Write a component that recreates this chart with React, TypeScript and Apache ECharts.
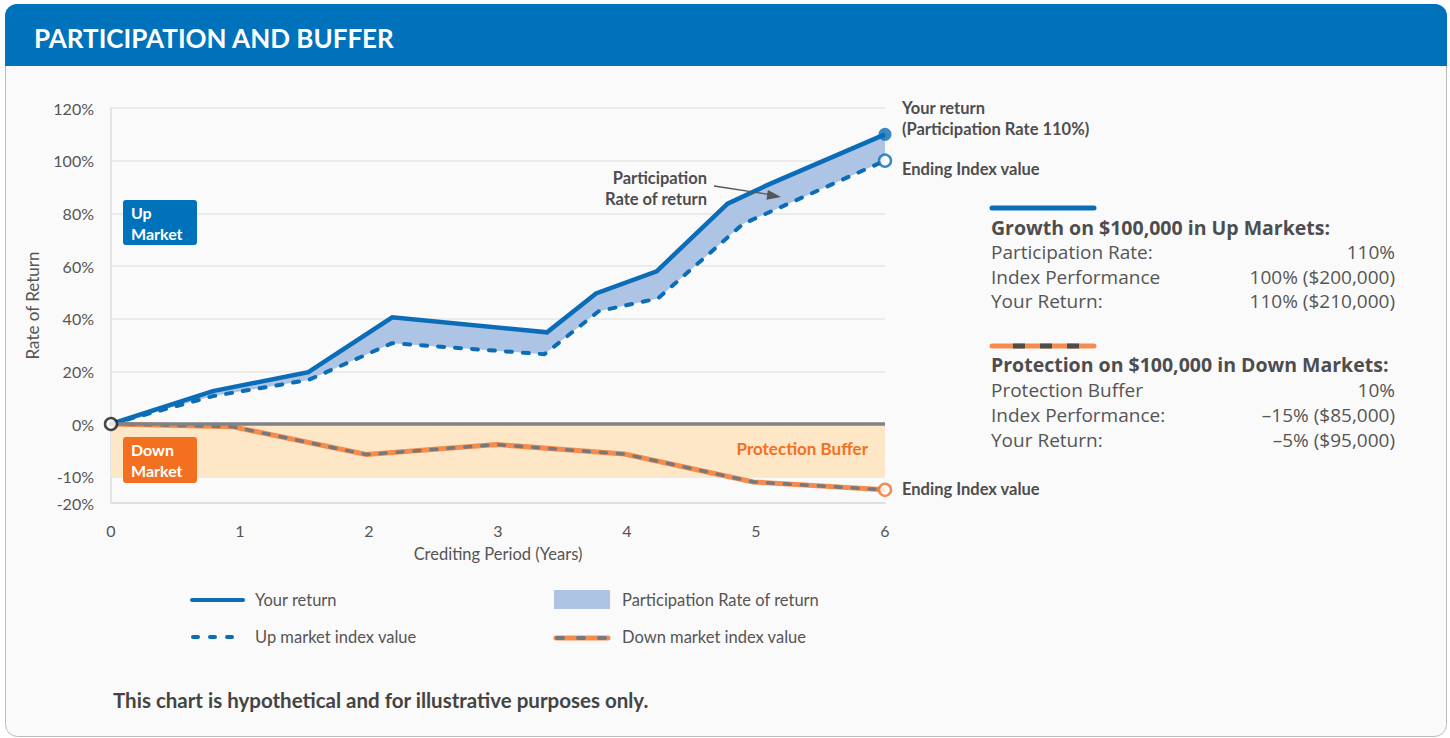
import React, { useEffect, useRef } from "react";
import * as echarts from "echarts";

// ---- Data ----
const returnYears = [0, 0.79, 1.53, 2.18, 3.38, 3.76, 4.23, 4.78, 5.1, 6];
const yourReturn = [0, 12.5, 19.7, 40.5, 34.8, 49.6, 58, 83.7, 91, 110];

const indexYears = [0, 0.79, 1.53, 2.18, 3.36, 3.78, 4.24, 4.9, 6];
const upIndex = [0, 10.6, 16.7, 30.7, 26.5, 42.8, 47.7, 76, 100];

const downYears = [0, 0.94, 1.98, 2.99, 3.98, 4.98, 6];
const downIndex = [0, -0.5, -5.8, -3.9, -5.7, -12, -15];

const xTicks = [0, 1, 2, 3, 4, 5, 6];
const yTickLabels = [120, 100, 80, 60, 40, 20, 0, -10, -20];
const bufferRange = [0, -10];

// The reference's vertical axis is piecewise: 0 to -10 is stretched, -10 to -20 compressed.
const toAxis = (v: number) => (v >= 0 ? v : v >= -10 ? 2 * v : -20 + (v + 10));
const fromAxis = (a: number) => (a >= 0 ? a : a >= -20 ? a / 2 : a + 10);

const FONT = "Lato, 'Open Sans', sans-serif";
const PANEL_FONT = "'Open Sans', Lato, sans-serif";
const BLUE = "#0b6db7";
const ORANGE = "#f37021";
const GRAY_TXT = "#4d4d4f";

export default function App() {
  const ref = useRef<HTMLDivElement>(null);

  useEffect(() => {
    if (!ref.current) return;
    const chart = echarts.init(ref.current, undefined, { renderer: "svg" });

    const txt = (text: string, x: number, y: number, o: any = {}) => ({
      type: "text",
      z: o.z ?? 20,
      style: {
        text,
        x,
        y,
        fill: o.fill ?? GRAY_TXT,
        fontFamily: o.family ?? FONT,
        fontSize: o.size ?? 16,
        fontWeight: o.weight ?? "normal",
        align: o.align ?? "left",
        verticalAlign: "middle",
        lineHeight: o.lineHeight,
      },
    });

    const panel = (text: string, x: number, y: number, o: any = {}) =>
      txt(text, x, y, { size: 19, fill: "#555", family: PANEL_FONT, ...o });

    const graphic: any[] = [
      // card
      {
        type: "rect",
        z: -10,
        shape: { x: 5.5, y: 4.5, width: 1441, height: 732, r: 12 },
        style: { fill: "#fafafa", stroke: "#bdbdbd", lineWidth: 1 },
      },
      {
        type: "rect",
        z: -9,
        shape: { x: 5, y: 4, width: 1442, height: 62, r: [12, 12, 0, 0] },
        style: { fill: "#0071bb" },
      },
      txt("PARTICIPATION AND BUFFER", 34, 38, { fill: "#ffffff", size: 26, weight: "bold" }),

      // in-plot labels
      {
        type: "rect",
        z: 20,
        shape: { x: 123, y: 200, width: 74, height: 45, r: 3 },
        style: { fill: "#0071bb" },
      },
      txt("Up\nMarket", 131, 223, { fill: "#ffffff", size: 16, weight: "bold", lineHeight: 21, z: 21 }),
      {
        type: "rect",
        z: 20,
        shape: { x: 123, y: 437, width: 74, height: 46, r: 3 },
        style: { fill: ORANGE },
      },
      txt("Down\nMarket", 131, 460, { fill: "#ffffff", size: 16, weight: "bold", lineHeight: 21, z: 21 }),

      txt("Participation\nRate of return", 707, 188, { size: 16.5, weight: "bold", align: "right", lineHeight: 21 }),
      {
        type: "line",
        z: 20,
        shape: { x1: 714, y1: 186, x2: 770, y2: 194.6 },
        style: { stroke: "#555555", lineWidth: 1.3 },
      },
      {
        type: "polygon",
        z: 20,
        shape: { points: [[781, 197], [766.4, 199.8], [767.9, 189.9]] },
        style: { fill: "#555555" },
      },

      // right-of-plot labels
      txt("Your return", 902, 108, { size: 16.5, weight: "bold" }),
      txt("(Participation Rate 110%)", 902, 129, { size: 16.5, weight: "bold" }),
      txt("Ending Index value", 902, 169, { size: 16.5, weight: "bold" }),
      txt("Ending Index value", 902, 489, { size: 16.5, weight: "bold" }),

      // right info panel
      {
        type: "line",
        z: 20,
        shape: { x1: 992, y1: 208, x2: 1094, y2: 208 },
        style: { stroke: BLUE, lineWidth: 5, lineCap: "round" },
      },
      panel("Growth on $100,000 in Up Markets:", 991, 227, { weight: "bold", fill: GRAY_TXT, size: 19.5 }),
      panel("Participation Rate:", 991, 252),
      panel("110%", 1395, 252, { align: "right" }),
      panel("Index Performance", 991, 277),
      panel("100% ($200,000)", 1395, 277, { align: "right" }),
      panel("Your Return:", 991, 301),
      panel("110% ($210,000)", 1395, 301, { align: "right" }),

      {
        type: "line",
        z: 20,
        shape: { x1: 992, y1: 346, x2: 1094, y2: 346 },
        style: { stroke: "#f58b4c", lineWidth: 5, lineCap: "round" },
      },
      {
        type: "line",
        z: 21,
        shape: { x1: 1013, y1: 346, x2: 1080, y2: 346 },
        style: { stroke: "#4d4d4f", lineWidth: 5, lineDash: [12, 15] },
      },
      panel("Protection on $100,000 in Down Markets:", 991, 364, { weight: "bold", fill: GRAY_TXT, size: 19.5 }),
      panel("Protection Buffer", 991, 390),
      panel("10%", 1395, 390, { align: "right" }),
      panel("Index Performance:", 991, 415),
      panel("–15% ($85,000)", 1395, 415, { align: "right" }),
      panel("Your Return:", 991, 440),
      panel("–5% ($95,000)", 1395, 440, { align: "right" }),

      // legend
      {
        type: "line",
        z: 20,
        shape: { x1: 192, y1: 600, x2: 243, y2: 600 },
        style: { stroke: BLUE, lineWidth: 4, lineCap: "round" },
      },
      txt("Your return", 255, 600, { size: 16.5, fill: "#555" }),
      {
        type: "line",
        z: 20,
        shape: { x1: 193, y1: 637, x2: 243, y2: 637 },
        style: { stroke: BLUE, lineWidth: 4, lineCap: "round", lineDash: [5, 12] },
      },
      txt("Up market index value", 255, 637, { size: 16.5, fill: "#555" }),
      {
        type: "rect",
        z: 20,
        shape: { x: 554, y: 590, width: 56, height: 19 },
        style: { fill: "#aec4e5" },
      },
      txt("Participation Rate of return", 622, 600, { size: 16.5, fill: "#555" }),
      {
        type: "line",
        z: 20,
        shape: { x1: 556, y1: 638, x2: 608, y2: 638 },
        style: { stroke: "#f58b4c", lineWidth: 5, lineCap: "round" },
      },
      {
        type: "line",
        z: 21,
        shape: { x1: 557, y1: 638, x2: 608, y2: 638 },
        style: { stroke: "#77787b", lineWidth: 4, lineCap: "round", lineDash: [6, 15] },
      },
      txt("Down market index value", 622, 637, { size: 16.5, fill: "#555" }),

      // footer
      txt("This chart is hypothetical and for illustrative purposes only.", 113, 700, {
        size: 20.5,
        weight: "bold",
        fill: "#444",
      }),
    ];

    const option: any = {
      animation: false,
      backgroundColor: "transparent",
      tooltip: { show: false },
      grid: { left: 111, right: 565, top: 108, bottom: 235, containLabel: false },
      xAxis: {
        type: "value",
        min: 0,
        max: 6,
        interval: 1,
        name: "Crediting Period (Years)",
        nameLocation: "middle",
        nameGap: 42,
        nameTextStyle: { fontFamily: FONT, fontSize: 16.5, color: "#555" },
        axisLine: { show: true, onZero: false, lineStyle: { color: "#dddddd", width: 1.5 } },
        axisTick: { show: false },
        splitLine: { show: false },
        axisLabel: {
          fontFamily: FONT,
          fontSize: 16,
          color: "#555",
          margin: 19,
          customValues: xTicks,
        },
      },
      yAxis: {
        type: "value",
        min: toAxis(-20),
        max: 120,
        name: "Rate of Return",
        nameLocation: "middle",
        nameGap: 70,
        nameRotate: 90,
        nameTextStyle: { fontFamily: FONT, fontSize: 17, color: "#555" },
        axisLine: { show: true, lineStyle: { color: "#dddddd", width: 1.5 } },
        axisTick: { show: false, customValues: yTickLabels.map(toAxis) },
        splitLine: { show: true, lineStyle: { color: "#e6e6e6", width: 1.5 } },
        axisLabel: {
          fontFamily: FONT,
          fontSize: 16,
          color: "#555",
          margin: 17,
          customValues: yTickLabels.map(toAxis),
          formatter: (v: number) => `${Math.round(fromAxis(v))}%`,
        },
      },
      graphic,
      series: [
        {
          name: "buffer",
          type: "line",
          z: 1,
          silent: true,
          symbol: "none",
          data: [
            [0, 0],
            [6, 0],
          ],
          lineStyle: { opacity: 0 },
          markArea: {
            silent: true,
            itemStyle: { color: "#fde7c6" },
            label: {
              show: true,
              position: "insideRight",
              distance: 17,
              color: ORANGE,
              fontFamily: FONT,
              fontWeight: "bold",
              fontSize: 17,
              offset: [0, -2],
            },
            data: [[{ name: "Protection Buffer", yAxis: toAxis(bufferRange[0]) }, { yAxis: toAxis(bufferRange[1]) }]],
          },
          markLine: {
            silent: true,
            symbol: "none",
            label: { show: false },
            lineStyle: { color: "#808285", width: 3.5, type: "solid" },
            data: [{ yAxis: 0 }],
          },
        },
        {
          name: "Participation Rate of return",
          type: "custom",
          z: 2,
          silent: true,
          data: [[0, 0]],
          renderItem: (_p: any, api: any) => {
            const top = returnYears.map((x, i) => api.coord([x, toAxis(yourReturn[i])]));
            const bottom = indexYears.map((x, i) => api.coord([x, toAxis(upIndex[i])])).reverse();
            return {
              type: "polygon",
              shape: { points: top.concat(bottom) },
              style: { fill: "#aec4e5" },
            };
          },
        },
        {
          name: "Up market index value",
          type: "line",
          z: 3,
          silent: true,
          symbol: "none",
          data: indexYears.map((x, i) => [x, toAxis(upIndex[i])]),
          lineStyle: { color: BLUE, width: 4, type: [6, 11], cap: "round" },
        },
        {
          name: "Your return",
          type: "line",
          z: 4,
          silent: true,
          symbol: "none",
          data: returnYears.map((x, i) => [x, toAxis(yourReturn[i])]),
          lineStyle: { color: BLUE, width: 4.5, join: "miter" },
        },
        {
          name: "Down market index value",
          type: "line",
          z: 3,
          silent: true,
          symbol: "none",
          data: downYears.map((x, i) => [x, toAxis(downIndex[i])]),
          lineStyle: { color: "#f58b4c", width: 5 },
        },
        {
          name: "Down market index dashes",
          type: "line",
          z: 4,
          silent: true,
          symbol: "none",
          data: downYears.map((x, i) => [x, toAxis(downIndex[i])]),
          lineStyle: { color: "#77787b", width: 3.5, type: [6, 11], cap: "round" },
        },
        {
          name: "markers",
          type: "scatter",
          z: 6,
          silent: true,
          data: [
            {
              value: [returnYears[returnYears.length - 1], toAxis(yourReturn[yourReturn.length - 1])],
              symbolSize: 13,
              itemStyle: { color: BLUE },
            },
            {
              value: [indexYears[indexYears.length - 1], toAxis(upIndex[upIndex.length - 1])],
              symbolSize: 12,
              itemStyle: { color: "#ffffff", borderColor: BLUE, borderWidth: 2.5 },
            },
            {
              value: [downYears[downYears.length - 1], toAxis(downIndex[downIndex.length - 1])],
              symbolSize: 12,
              itemStyle: { color: "#ffffff", borderColor: ORANGE, borderWidth: 2.5 },
            },
            {
              value: [0, 0],
              symbolSize: 12,
              itemStyle: { color: "#ffffff", borderColor: "#1a1a1a", borderWidth: 2.5 },
            },
          ],
        },
      ],
    };

    chart.setOption(option);
    return () => chart.dispose();
  }, []);

  return (
    <div
      ref={ref}
      style={{ position: "absolute", left: 0, top: 0, width: 1450, height: 738 }}
    />
  );
}
